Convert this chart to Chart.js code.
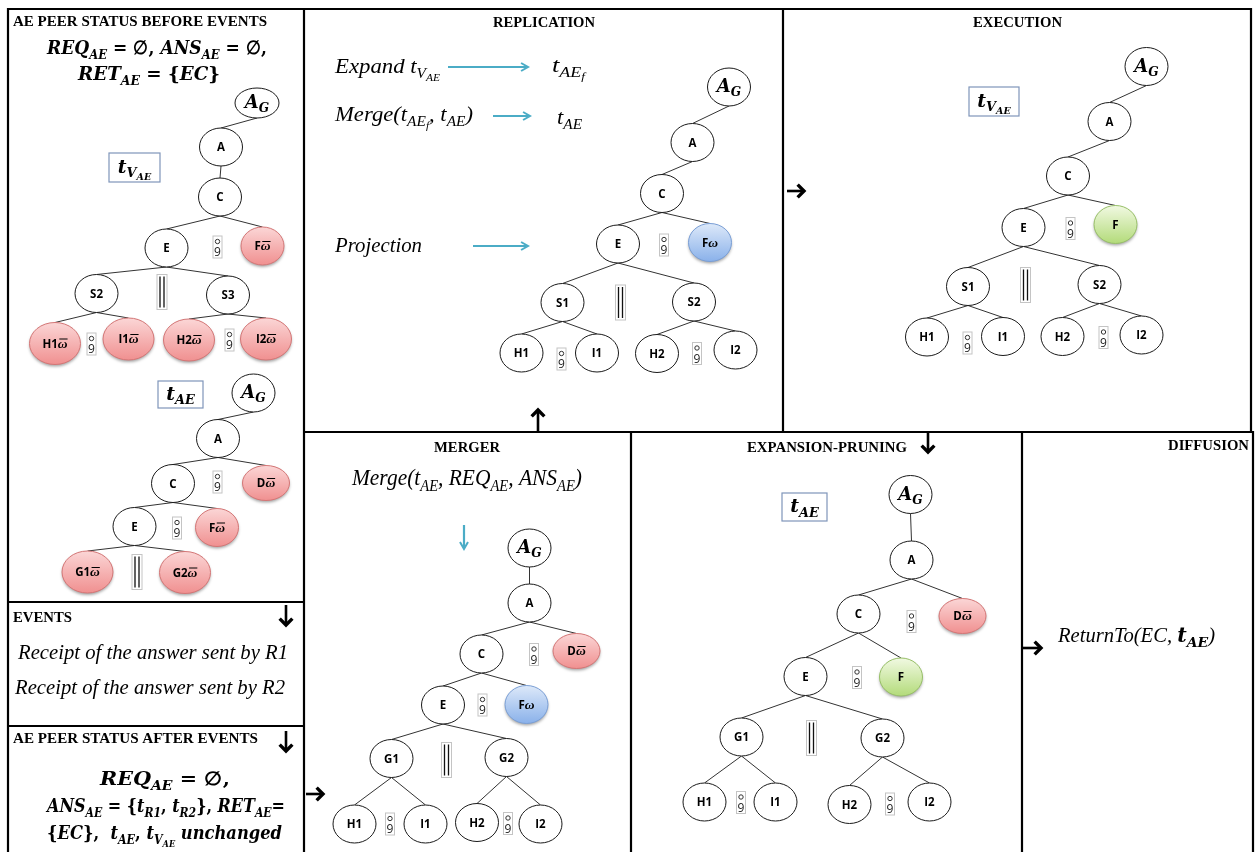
<!DOCTYPE html>
<html><head><meta charset="utf-8">
<style>html,body{margin:0;padding:0;background:#fff;}canvas{display:block;}</style>
<script src="https://cdn.jsdelivr.net/npm/chart.js@4.4.1/dist/chart.umd.min.js"></script>
</head><body>
<canvas id="c" width="1258" height="852"></canvas>
<script>
// ---------------- DATA (diagram coordinate space 0..1258 x 0..852) ----------------
const SPACE_W = 1258, SPACE_H = 852;

// Tree 1 : t_VAE before events (left panel)
const t1Label  = ['A_G','A','C','E','Fω̄','S2','S3','H1ω̄','I1ω̄','H2ω̄','I2ω̄'];
const t1Kind   = ['a','o','o','o','r','o','o','R','R','R','R'];
const t1Parent = [-1,0,1,2,2,3,3,5,5,6,6];
const t1X      = [257,221,220,166.5,262.5,96.5,228,55,128.5,189,266];
const t1Y      = [103,147,197,248,246,293.5,295,343.5,339,340,339];
const t1Ops    = [['o',217.5,247],['p',162,292],['o',91.5,344],['o',229.5,340]];

// Tree 2 : t_AE before events (left panel)
const t2Label  = ['A_G','A','C','Dω̄','E','Fω̄','G1ω̄','G2ω̄'];
const t2Kind   = ['o','o','o','d','o','r','R','R'];
const t2Parent = [-1,0,1,1,2,2,4,4];
const t2X      = [253.5,218,173,266,134.5,217,87.5,185];
const t2Y      = [393,438.5,483.5,483,526.5,527.5,572,572.5];
const t2Ops    = [['o',217.5,482],['o',177,528],['p',137,572]];

// Tree 3 : replication
const t3Label  = ['A_G','A','C','E','Fω','S1','S2','H1','I1','H2','I2'];
const t3Kind   = ['o','o','o','o','b','o','o','o','o','o','o'];
const t3Parent = [-1,0,1,2,2,3,3,5,5,6,6];
const t3X      = [729,692.5,662,618,710,562.5,694,521.5,597,657,735.5];
const t3Y      = [87,142.5,193.5,244,242.5,302.5,302,353,353,353.5,350];
const t3Ops    = [['o',664,245],['p',620.5,302.5],['o',561.5,359],['o',697,353.5]];

// Tree 4 : execution
const t4Label  = ['A_G','A','C','E','F','S1','S2','H1','I1','H2','I2'];
const t4Kind   = ['o','o','o','o','g','o','o','o','o','o','o'];
const t4Parent = [-1,0,1,2,2,3,3,5,5,6,6];
const t4X      = [1146.5,1109.5,1068,1023.5,1115.5,968,1099.5,927,1003,1062.5,1141.5];
const t4Y      = [66.5,121.5,176,227.5,224.5,286.5,284.5,337,336.5,336.5,335];
const t4Ops    = [['o',1070.5,228.5],['p',1025.5,285],['o',967.5,343],['o',1103.5,337.5]];

// Tree 5 : merger
const t5Label  = ['A_G','A','C','Dω̄','E','Fω','G1','G2','H1','I1','H2','I2'];
const t5Kind   = ['o','o','o','d','o','b','o','o','o','o','o','o'];
const t5Parent = [-1,0,1,1,2,2,4,4,6,6,7,7];
const t5X      = [529.5,529.5,481.5,576.5,443,526.5,391.5,506.5,354.5,425.5,477,540.5];
const t5Y      = [548,603,654,651,705,704.5,758.5,757.5,824,824,822.5,824];
const t5Ops    = [['o',534,654.5],['o',482.5,705],['p',446.5,760],['o',390,824],['o',508,823.5]];

// Tree 6 : expansion-pruning
const t6Label  = ['A_G','A','C','Dω̄','E','F','G1','G2','H1','I1','H2','I2'];
const t6Kind   = ['o','o','o','d','o','g','o','o','o','o','o','o'];
const t6Parent = [-1,0,1,1,2,2,4,4,6,6,7,7];
const t6X      = [910.5,911.5,858.5,962.5,805.5,901,741.5,882.5,704.5,775.5,849.5,929.5];
const t6Y      = [494.5,560,614,616,676.5,677,737,738,802,802,804.5,802];
const t6Ops    = [['o',911.5,621.5],['o',857,677.5],['p',811.5,738],['o',741,802.5],['o',890,804]];

// Texts (markup: style:text|style:text)
const captions = [
  ['T:AE PEER STATUS BEFORE EVENTS', 13, 26, 254, 15],
  ['T:REPLICATION', 493, 27, 102, 15],
  ['T:EXECUTION', 973, 27, 89, 15],
  ['T:MERGER', 434, 452, 66, 15],
  ['T:EXPANSION-PRUNING', 747, 452, 160, 15],
  ['T:DIFFUSION', 1168, 450, 81, 15],
  ['T:EVENTS', 13, 622, 59, 15],
  ['T:AE PEER STATUS AFTER EVENTS', 13, 743, 245, 15],
  ['b:REQ|bs:AE|u: = ∅, |b:ANS|bs:AE|u: = ∅,', 47, 54, 220, 19],
  ['b:RET|bs:AE|u: = {|b:EC|u:}', 78, 80, 142, 19],
  ['b:REQ|bs:AE|u: = ∅,', 100, 785, 130, 19],
  ['b:ANS|bs:AE|u: = {|b:t|bs:R1|u:, |b:t|bs:R2|u:}, |b:RET|bs:AE|u:=', 47, 812, 238, 19],
  ['u:{|b:EC|u:},  |b:t|bs:AE|u:, |b:t|bs:V|bss:AE|u: |b:unchanged', 47, 839, 235, 19],
  ['i:Receipt of the answer sent by R1', 18, 659, 270, 20],
  ['i:Receipt of the answer sent by R2', 15, 694, 270, 20],
  ['i:Expand |m:t|ms:V|mss:AE', 335, 73, 105, 20],
  ['m:t|ms:AE|mss:f', 552, 72, 33, 20],
  ['i:Merge(|m:t|ms:AE|mss:f|i:, |m:t|ms:AE|i:)', 335, 121, 138, 20],
  ['m:t|ms:AE', 557, 124, 25, 20],
  ['i:Projection', 335, 252, 87, 20],
  ['i:Merge(|m:t|ms:AE|i:, |m:REQ|ms:AE|i:, |m:ANS|ms:AE|i:)', 352, 485, 230, 24],
  ['i:ReturnTo(EC, |b:t|bs:AE|i:)', 1058, 642, 157, 20]
];
const labelBoxes = [
  [109,153,160,182,'b:t|bs:V|bss:AE'],
  [158,381,203,408,'b:t|bs:AE'],
  [969,87,1019,116,'b:t|bs:V|bss:AE'],
  [782,493,827,521,'b:t|bs:AE']
];
const panelRules = [
  [8,9,1251,9],[8,9,8,852],[304,9,304,852],[783,9,783,432],[1251,9,1251,432],
  [304,432,1253,432],[631,432,631,852],[1022,432,1022,852],[1253,432,1253,852],
  [8,602,304,602],[8,726,304,726]
];
const blackArrows = [[787,191,804,191],[928,433,928,452],[286,605,286,625],[286,731,286,751],[306,794,323,794],[1023,648,1041,648],[538,431,538,410]];
const blueArrows  = [[448,67,528,67],[493,116,530,116],[473,246,528,246],[464,525,464,549]];

// ---------------- STYLES ----------------
const SERIF = '"Liberation Serif","Times New Roman",serif';
const MATH  = '"DejaVu Serif",serif';
const SANS  = '"Open Sans",sans-serif';
const NODE_STYLE = {
  o:{rx:21.5, ry:19},
  a:{rx:22, ry:15},
  r:{rx:21.5, ry:19, grad:['#fbd6d6','#f09090'], stroke:'#d47676'},
  R:{rx:25.5, ry:21, grad:['#fbd6d6','#f09090'], stroke:'#d47676'},
  d:{rx:23.5, ry:17.5, grad:['#fbd6d6','#f09090'], stroke:'#d47676'},
  b:{rx:21.5, ry:19, grad:['#dde9f9','#8ab1ea'], stroke:'#7a9fd6'},
  g:{rx:21.5, ry:19, grad:['#f1f9e2','#b3db7a'], stroke:'#98c068'}
};
const STY = {
  T:  {w:'bold',        fam:SERIF, k:1,    dy:0},
  i:  {w:'italic',      fam:SERIF, k:1,    dy:0},
  m:  {w:'italic',      fam:SERIF, k:1,    dy:0},
  ms: {w:'italic',      fam:SERIF, k:0.68, dy:0.24},
  mss:{w:'italic',      fam:SERIF, k:0.5,  dy:0.42},
  b:  {w:'italic bold', fam:MATH,  k:1,    dy:0},
  bs: {w:'italic bold', fam:MATH,  k:0.68, dy:0.24},
  bss:{w:'italic bold', fam:MATH,  k:0.5,  dy:0.42},
  u:  {w:'bold',        fam:MATH,  k:1,    dy:0}
};

// ---------------- BUILD DATASETS ----------------
const trees = [
  [t1Label,t1Kind,t1Parent,t1X,t1Y,t1Ops],
  [t2Label,t2Kind,t2Parent,t2X,t2Y,t2Ops],
  [t3Label,t3Kind,t3Parent,t3X,t3Y,t3Ops],
  [t4Label,t4Kind,t4Parent,t4X,t4Y,t4Ops],
  [t5Label,t5Kind,t5Parent,t5X,t5Y,t5Ops],
  [t6Label,t6Kind,t6Parent,t6X,t6Y,t6Ops]
];
const nodeInfo = [], nodePts = [], edgePts = [], opInfo = [], opPts = [];
const GAP = {x:NaN, y:NaN};
trees.forEach(([lab,kind,par,xs,ys,ops]) => {
  lab.forEach((l,i) => {
    nodeInfo.push({label:l, kind:kind[i]});
    nodePts.push({x:xs[i], y:ys[i]});
    const p = par[i];
    if (p >= 0) {
      edgePts.push({x:xs[p], y:ys[p] + NODE_STYLE[kind[p]].ry});
      edgePts.push({x:xs[i], y:ys[i] - NODE_STYLE[kind[i]].ry});
      edgePts.push(GAP);
    }
  });
  ops.forEach(o => { opInfo.push(o[0]); opPts.push({x:o[1], y:o[2]}); });
});
const rulePts = [];
panelRules.forEach(r => { rulePts.push({x:r[0],y:r[1]},{x:r[2],y:r[3]},GAP); });

// ---------------- DRAW HELPERS ----------------
function parseRuns(s){ return s.split('|').map(p => { const k = p.indexOf(':'); return [p.slice(0,k), p.slice(k+1)]; }); }
function fontOf(s, size){ const st = STY[s]; return st.w + ' ' + (size*st.k).toFixed(2) + 'px ' + st.fam; }
function runsWidth(ctx, runs, size){ let w = 0; for (const [s,t] of runs){ ctx.font = fontOf(s,size); w += ctx.measureText(t).width; } return w; }
function drawRuns(ctx, runs, px, py, size, targetPx, align){
  const nat = runsWidth(ctx, runs, size);
  const sx = targetPx ? targetPx/nat : 1;
  ctx.save(); ctx.translate(px, py); ctx.scale(sx, 1);
  ctx.textAlign = 'left'; ctx.textBaseline = 'alphabetic'; ctx.fillStyle = '#000';
  let cx = align === 'center' ? -nat/2 : 0;
  for (const [s,t] of runs){ ctx.font = fontOf(s,size); ctx.fillText(t, cx, STY[s].dy*size); cx += ctx.measureText(t).width; }
  ctx.restore();
}
function drawArrow(ctx, x1,y1,x2,y2, color, lw, headLen, headLw, ang){
  const a = Math.atan2(y2-y1, x2-x1);
  ctx.save(); ctx.strokeStyle = color; ctx.lineCap = 'butt'; ctx.lineJoin = 'miter';
  ctx.lineWidth = lw; ctx.beginPath(); ctx.moveTo(x1,y1); ctx.lineTo(x2 - Math.cos(a)*1.5, y2 - Math.sin(a)*1.5); ctx.stroke();
  ctx.lineWidth = headLw; ctx.beginPath();
  ctx.moveTo(x2 - headLen*Math.cos(a-ang), y2 - headLen*Math.sin(a-ang));
  ctx.lineTo(x2, y2);
  ctx.lineTo(x2 - headLen*Math.cos(a+ang), y2 - headLen*Math.sin(a+ang));
  ctx.stroke(); ctx.restore();
}
function drawNode(ctx, px, py, n, kx, ky){
  const st = NODE_STYLE[n.kind];
  const rx = st.rx*kx, ry = st.ry*ky;
  ctx.save();
  ctx.beginPath(); ctx.ellipse(px, py, rx, ry, 0, 0, Math.PI*2);
  if (st.grad){
    const g = ctx.createLinearGradient(0, py-ry, 0, py+ry);
    g.addColorStop(0, st.grad[0]); g.addColorStop(1, st.grad[1]);
    ctx.shadowColor = 'rgba(0,0,0,0.35)'; ctx.shadowBlur = 3; ctx.shadowOffsetY = 2;
    ctx.fillStyle = g; ctx.fill();
    ctx.shadowColor = 'transparent'; ctx.shadowBlur = 0; ctx.shadowOffsetY = 0;
    ctx.strokeStyle = st.stroke; ctx.lineWidth = 1; ctx.stroke();
  } else {
    ctx.fillStyle = '#fff'; ctx.fill(); ctx.strokeStyle = '#1a1a1a'; ctx.lineWidth = 1; ctx.stroke();
  }
  ctx.fillStyle = '#000';
  if (n.label === 'A_G'){
    drawRuns(ctx, parseRuns('b:A|bs:G'), px, py + 5, 18, null, 'center');
  } else {
    const m = n.label.match(/^(.*?)ω(\u0304)?$/);
    const base = m ? m[1] : n.label;
    ctx.textBaseline = 'alphabetic'; ctx.textAlign = 'left';
    const bf = 'bold 11.5px ' + SANS, of = 'italic bold 13.5px ' + SERIF;
    ctx.font = bf; const wb = ctx.measureText(base).width;
    let wo = 0; if (m){ ctx.font = of; wo = ctx.measureText('ω').width; }
    const x0 = px - (wb + wo)/2;
    ctx.font = bf; ctx.fillText(base, x0, py + 4);
    if (m){
      ctx.font = of; ctx.fillText('ω', x0 + wb, py + 4);
      if (m[2]){ ctx.strokeStyle = '#000'; ctx.lineWidth = 1; ctx.beginPath(); ctx.moveTo(x0+wb+1.5, py-4.5); ctx.lineTo(x0+wb+wo, py-4.5); ctx.stroke(); }
    }
  }
  ctx.restore();
}
function drawOp(ctx, kind, px, py, kx, ky){
  ctx.save();
  ctx.strokeStyle = '#c4c4c4'; ctx.lineWidth = 1;
  if (kind === 'o'){
    ctx.strokeRect(px - 4.5*kx, py - 11*ky, 9*kx, 22*ky);
    ctx.strokeStyle = '#333'; ctx.beginPath(); ctx.arc(px, py - 5.5*ky, 2.2, 0, Math.PI*2); ctx.stroke();
    ctx.fillStyle = '#222'; ctx.font = '12px ' + SANS; ctx.textAlign = 'center'; ctx.textBaseline = 'alphabetic';
    ctx.fillText('9', px, py + 9*ky);
  } else {
    ctx.strokeRect(px - 5*kx, py - 17.5*ky, 10*kx, 35*ky);
    ctx.strokeStyle = '#111'; ctx.lineWidth = 1.3; ctx.beginPath();
    ctx.moveTo(px - 2*kx, py - 15.5*ky); ctx.lineTo(px - 2*kx, py + 15.5*ky);
    ctx.moveTo(px + 2*kx, py - 15.5*ky); ctx.lineTo(px + 2*kx, py + 15.5*ky);
    ctx.stroke();
  }
  ctx.restore();
}

// ---------------- PLUGINS ----------------
const whiteBg = { id:'whiteBg', beforeDraw(chart){ const c = chart.ctx; c.save(); c.fillStyle = '#fff'; c.fillRect(0,0,chart.width,chart.height); c.restore(); } };
const diagram = {
  id:'diagram',
  afterDatasetsDraw(chart){
    const ctx = chart.ctx, xs = chart.scales.x, ys = chart.scales.y;
    const X = v => xs.getPixelForValue(v), Y = v => ys.getPixelForValue(v);
    const kx = Math.abs(X(1) - X(0)), ky = Math.abs(Y(1) - Y(0));
    chart.getDatasetMeta(3).data.forEach((el,i) => drawOp(ctx, opInfo[i], el.x, el.y, kx, ky));
    chart.getDatasetMeta(2).data.forEach((el,i) => drawNode(ctx, el.x, el.y, nodeInfo[i], kx, ky));
    labelBoxes.forEach(b => {
      const x1 = X(b[0]), y1 = Y(b[1]), x2 = X(b[2]), y2 = Y(b[3]);
      ctx.save(); ctx.fillStyle = '#fff'; ctx.fillRect(x1,y1,x2-x1,y2-y1);
      ctx.strokeStyle = '#7f95ba'; ctx.lineWidth = 1.2; ctx.strokeRect(x1,y1,x2-x1,y2-y1); ctx.restore();
      drawRuns(ctx, parseRuns(b[4]), (x1+x2)/2, (y1+y2)/2 + 5*ky, 19, null, 'center');
    });
    captions.forEach(c => drawRuns(ctx, parseRuns(c[0]), X(c[1]), Y(c[2]), c[4], c[3]*kx, 'left'));
    blackArrows.forEach(a => drawArrow(ctx, X(a[0]),Y(a[1]),X(a[2]),Y(a[3]), '#000', 2.6, 9, 3.4, Math.PI/4));
    blueArrows.forEach(a => drawArrow(ctx, X(a[0]),Y(a[1]),X(a[2]),Y(a[3]), '#4bacc6', 2.2, 8, 2, Math.PI/6));
  }
};

// ---------------- CHART ----------------
new Chart(document.getElementById('c'), {
  type:'scatter',
  data:{ datasets:[
    { label:'panels', data:rulePts, showLine:true, spanGaps:false, borderColor:'#000', borderWidth:2.2, borderCapStyle:'square', pointRadius:0 },
    { label:'edges', data:edgePts, showLine:true, spanGaps:false, borderColor:'#333', borderWidth:1, pointRadius:0 },
    { label:'nodes', data:nodePts, pointRadius:0, showLine:false },
    { label:'operators', data:opPts, pointRadius:0, showLine:false }
  ]},
  options:{
    responsive:false, animation:false, events:[],
    layout:{padding:0},
    plugins:{ legend:{display:false}, tooltip:{enabled:false} },
    elements:{ line:{tension:0}, point:{radius:0} },
    scales:{
      x:{ type:'linear', min:0, max:SPACE_W, display:false },
      y:{ type:'linear', min:0, max:SPACE_H, reverse:true, display:false }
    }
  },
  plugins:[whiteBg, diagram]
});
</script>
</body></html>
